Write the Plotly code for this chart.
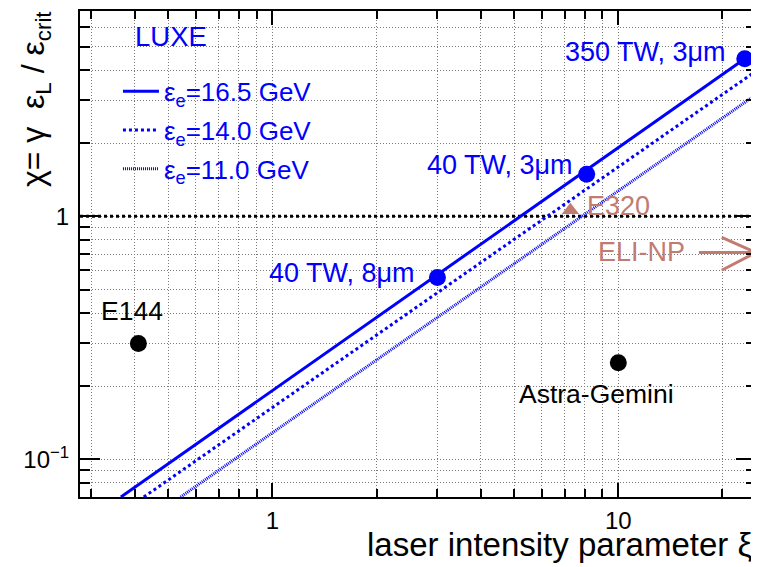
import numpy as np
import plotly.graph_objects as go

# ---------------- data ----------------
# LUXE chi lines (straight in log-log), endpoints
line_names = ["ε<sub>e</sub>=16.5 GeV", "ε<sub>e</sub>=14.0 GeV", "ε<sub>e</sub>=11.0 GeV"]
line_165_xi = [0.365, 23.2]
line_165_chi = [0.070, 4.45]
line_140_xi = [0.425, 24.3]
line_140_chi = [0.070, 3.85]
line_110_xi = [0.543, 24.2]
line_110_chi = [0.070, 3.07]

# LUXE laser configurations (16.5 GeV)
luxe_labels = ["40 TW, 8μm", "40 TW, 3μm", "350 TW, 3μm"]
luxe_xi = [3.0, 8.1, 23.2]
luxe_chi = [0.56, 1.49, 4.45]

# other experiments
other_labels = ["E144", "Astra-Gemini"]
other_xi = [0.41, 10.0]
other_chi = [0.30, 0.25]

e320_label = "E320"
e320_xi = [7.27]
e320_chi = [1.06]

eli_label = "ELI-NP"
eli_arrow_xi = [17.1, 25.0]
eli_arrow_chi = [0.71, 0.71]
eli_head_xi = [19.9, 25.0, 19.9]
eli_head_chi = [0.82, 0.71, 0.60]

chi_crit_xi = [0.278, 25.0]
chi_crit_chi = [1.0, 1.0]

x_range = [0.278, 25.0]
y_range = [0.07, 7.0]
x_major = [1, 10]
x_major_text = ["1", "10"]
x_minor = [0.3, 0.4, 0.5, 0.6, 0.7, 0.8, 0.9, 2, 3, 4, 5, 6, 7, 8, 9, 20]
y_major = [0.1, 1]
y_major_text = ["10<sup>−1</sup>", "1"]
y_minor = [0.08, 0.09, 0.2, 0.3, 0.4, 0.5, 0.6, 0.7, 0.8, 0.9, 2, 3, 4, 5, 6]

# ---------------- styles ----------------
BLUE = "#0000ff"
ROSE = "#c27b70"
GRID = "#7a7a7a"
GRIDDASH = "1px,2px"
FONT = "Liberation Sans, Arial, Helvetica, sans-serif"

# the page body adds an 8px margin; size the figure so the plot area lands where the reference has it
OFF = 8
PW, PH = 759 - OFF, 567 - OFF
L, R, T, B = 80 - OFF, 2, 9 - OFF, 70
plot_w = PW - L - R
plot_h = PH - T - B


def px_x(px):  # window pixel x -> paper x
    return (px - OFF - L) / plot_w


def px_y(py):  # window pixel y -> paper y
    return 1 - (py - OFF - T) / plot_h


fig = go.Figure()

# horizontal chi = 1 line
fig.add_trace(go.Scatter(x=chi_crit_xi, y=chi_crit_chi, mode="lines",
                         line=dict(color="black", width=3, dash="dot"),
                         showlegend=False, hoverinfo="skip"))

fig.add_trace(go.Scatter(x=line_165_xi, y=line_165_chi, mode="lines", name=line_names[0],
                         line=dict(color=BLUE, width=3), legendgroup="a"))
fig.add_trace(go.Scatter(x=line_140_xi, y=line_140_chi, mode="lines", name=line_names[1],
                         line=dict(color=BLUE, width=3, dash="dot"), legendgroup="b"))
fig.add_trace(go.Scatter(x=line_110_xi, y=line_110_chi, mode="lines", name=line_names[2],
                         line=dict(color=BLUE, width=3, dash="1px,1px"), legendgroup="c"))

fig.add_trace(go.Scatter(x=luxe_xi, y=luxe_chi, mode="markers",
                         marker=dict(color=BLUE, size=17), showlegend=False, cliponaxis=False))
fig.add_trace(go.Scatter(x=other_xi, y=other_chi, mode="markers",
                         marker=dict(color="black", size=17), showlegend=False))
fig.add_trace(go.Scatter(x=e320_xi, y=e320_chi, mode="markers",
                         marker=dict(color=ROSE, size=15, symbol="triangle-up"), showlegend=False))
fig.add_trace(go.Scatter(x=eli_arrow_xi, y=eli_arrow_chi, mode="lines",
                         line=dict(color=ROSE, width=3), showlegend=False, cliponaxis=False))
fig.add_trace(go.Scatter(x=eli_head_xi, y=eli_head_chi, mode="lines",
                         line=dict(color=ROSE, width=3), showlegend=False, cliponaxis=False))

ann = []
# LUXE point labels
luxe_shift = [(-20, 5), (-12, 9), (-17, 7)]
for lab, x, y, (dx, dy) in zip(luxe_labels, luxe_xi, luxe_chi, luxe_shift):
    ann.append(dict(x=np.log10(x), y=np.log10(y), xref="x", yref="y", text=lab, showarrow=False,
                    xanchor="right", yanchor="middle", xshift=dx, yshift=dy,
                    font=dict(color=BLUE, size=27, family=FONT)))
# other experiments
other_shift = [(-6, 32), (-22, -31)]
for lab, x, y, (dx, dy) in zip(other_labels, other_xi, other_chi, other_shift):
    ann.append(dict(x=np.log10(x), y=np.log10(y), xref="x", yref="y", text=lab, showarrow=False,
                    xanchor="center", yanchor="middle", xshift=dx, yshift=dy,
                    font=dict(color="black", size=26.5, family=FONT)))
ann.append(dict(x=np.log10(e320_xi[0]), y=np.log10(e320_chi[0]), xref="x", yref="y", text=e320_label,
                showarrow=False, xanchor="left", yanchor="middle", xshift=15, yshift=4,
                font=dict(color=ROSE, size=27, family=FONT)))
ann.append(dict(x=np.log10(eli_arrow_xi[0]), y=np.log10(eli_arrow_chi[0]), xref="x", yref="y",
                text=eli_label, showarrow=False, xanchor="right", yanchor="middle", xshift=-12, yshift=1,
                font=dict(color=ROSE, size=27, family=FONT)))
# LUXE tag
ann.append(dict(x=px_x(133), y=px_y(35), xref="paper", yref="paper", text="LUXE",
                showarrow=False, xanchor="left", yanchor="middle",
                font=dict(color=BLUE, size=27.5, family=FONT)))
# axis titles
ann.append(dict(x=px_x(755), y=px_y(545), xref="paper", yref="paper",
                text="laser intensity parameter ξ", showarrow=False, xanchor="right", yanchor="middle",
                font=dict(color="black", size=33, family=FONT)))
ann.append(dict(x=px_x(35), y=px_y(7), xref="paper", yref="paper",
                text="χ= γ  ε<sub>L</sub> / ε<sub>crit</sub>", showarrow=False, textangle=-90,
                xanchor="center", yanchor="top",
                font=dict(color="black", size=32, family=FONT)))

axis_common = dict(type="log", showline=True, linecolor="black", linewidth=2, mirror="allticks",
                   ticks="inside", tickwidth=2, tickcolor="black", tickmode="array",
                   showgrid=True, gridcolor=GRID, gridwidth=1, griddash=GRIDDASH,
                   zeroline=False, tickfont=dict(size=24, family=FONT, color="black"))

fig.update_layout(
    width=PW, height=PH,
    margin=dict(l=L, r=R, t=T, b=B),
    paper_bgcolor="white", plot_bgcolor="white",
    font=dict(family=FONT, color="black"),
    annotations=ann,
    showlegend=True,
    legend=dict(x=px_x(118), y=px_y(66), xanchor="left", yanchor="top",
                bgcolor="rgba(0,0,0,0)", borderwidth=0, tracegroupgap=2,
                font=dict(size=26, color=BLUE, family=FONT), itemwidth=36),
)
fig.update_xaxes(**axis_common, range=[np.log10(x_range[0]), np.log10(x_range[1])],
                 tickvals=x_major, ticktext=x_major_text, ticklen=14, ticklabelstandoff=1,
                 minor=dict(tickmode="array", tickvals=x_minor, ticks="inside", ticklen=8,
                            tickwidth=2, tickcolor="black", showgrid=True, gridcolor=GRID,
                            gridwidth=1, griddash=GRIDDASH))
fig.update_yaxes(**axis_common, range=[np.log10(y_range[0]), np.log10(y_range[1])],
                 tickvals=y_major, ticktext=y_major_text, ticklen=20, ticklabelstandoff=4,
                 minor=dict(tickmode="array", tickvals=y_minor, ticks="inside", ticklen=10,
                            tickwidth=2, tickcolor="black", showgrid=True, gridcolor=GRID,
                            gridwidth=1, griddash=GRIDDASH))

fig.write_html("out.html")
